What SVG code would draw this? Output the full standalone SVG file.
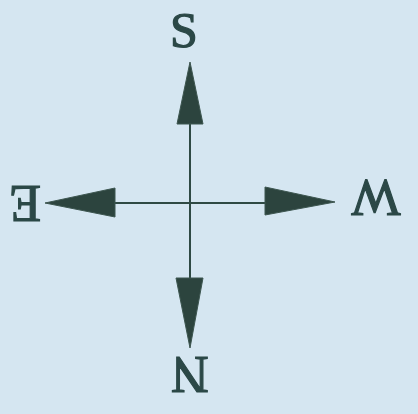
<svg xmlns="http://www.w3.org/2000/svg" width="418" height="414" viewBox="0 0 418 414">
<style>
.lbl{font-family:"Liberation Serif","Times New Roman",serif;font-size:52px;fill:#2b4847;stroke:#2b4847;stroke-width:1.2;text-anchor:middle}
.arr{fill:#2c443e;stroke:#3d5650;stroke-width:1}
.ln{stroke:#2f4a44;stroke-width:2;fill:none}
</style>
<rect width="418" height="414" fill="#d5e6f1"/>
<g id="connectors">
<line class="ln" x1="190" y1="110" x2="190" y2="300"/>
<line class="ln" x1="100" y1="203" x2="280" y2="203"/>
</g>
<g id="arrow-s"><polygon class="arr" points="190,62 203,124 177,124"/></g>
<g id="arrow-n"><polygon class="arr" points="190,348 203,278 176,278"/></g>
<g id="arrow-e"><polygon class="arr" points="45,203 115,188 115,217"/></g>
<g id="arrow-w"><polygon class="arr" points="335,202 265,187 265,215"/></g>
<g id="label-s"><text class="lbl" x="184" y="47" style="font-size:50px">S</text></g>
<g id="label-e"><text class="lbl" x="25" y="220" transform="rotate(180 25 203)">E</text></g>
<g id="label-w"><text class="lbl" x="376" y="214" transform="rotate(180 376 197)">W</text></g>
<g id="label-n"><text class="lbl" x="190" y="391" transform="rotate(180 190 374)">N</text></g>
</svg>
